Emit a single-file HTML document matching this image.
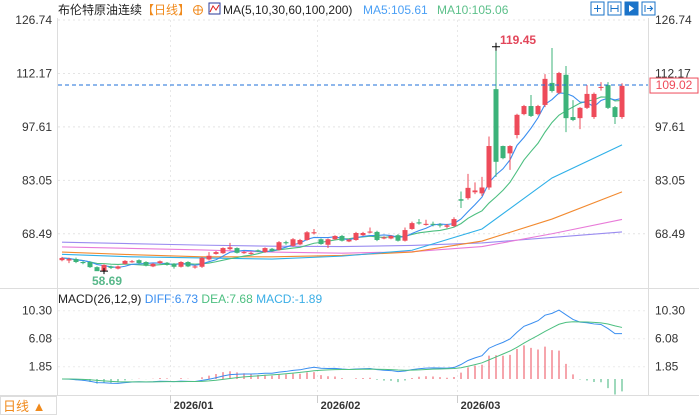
<!DOCTYPE html>
<html><head><meta charset="utf-8"><style>
body{margin:0;background:#fff;width:699px;height:415px;overflow:hidden;font-family:"Liberation Sans","Noto Sans CJK SC",sans-serif}
svg text{font-family:"Liberation Sans","Noto Sans CJK SC",sans-serif}
</style></head><body>
<svg id="c" width="699" height="415" xmlns="http://www.w3.org/2000/svg">
<rect x="0" y="0" width="699" height="415" fill="#fff"/>
<g>
<text x="58" y="14" font-size="12" fill="#222">布伦特原油连续</text>
<text x="142" y="14" font-size="12" fill="#f08a1c">【日线】</text>
<circle cx="198" cy="10" r="4.5" fill="none" stroke="#f08a1c"/>
<line x1="193.5" y1="10" x2="202.5" y2="10" stroke="#f08a1c"/><line x1="198" y1="5.5" x2="198" y2="14.5" stroke="#f08a1c"/>
<rect x="209" y="3" width="11" height="11" fill="#fff" stroke="#2a3a9a"/>
<polyline points="210,12 213,6 216,10 219,5" fill="none" stroke="#d22" stroke-width="1"/>
<text x="223" y="14" font-size="12" fill="#222">MA(5,10,30,60,100,200)</text>
<text x="363" y="14" font-size="12" fill="#4a9ff5">MA5:105.61</text>
<text x="437" y="14" font-size="12" fill="#5cc08a">MA10:105.06</text>
<g>
<rect x="591" y="2" width="13" height="13" fill="none" stroke="#1a73c9"/>
<rect x="608" y="2" width="13" height="13" fill="none" stroke="#1a73c9"/>
<rect x="625" y="2" width="13" height="13" fill="#1a73c9" stroke="#1a73c9"/>
<rect x="642" y="2" width="13" height="13" fill="none" stroke="#1a73c9"/>
<path d="M594 8.5h7M597.5 5v7M611 5v7M618 5v7M611 8.5h7M629 5v7l5-3.5zM645 5v7M647 8.5h5M650 6l2.5 2.5L650 11" stroke="#1a73c9" fill="none"/>
<path d="M629 5v7l5-3.5z" fill="#fff"/>
</g>
</g>
<g id="grid"></g>
<g id="mas"></g>
<g id="candles"></g>
<g id="macd"></g>
<g id="axes"></g>
</svg>
<script>
const open_=[61.3,61.2,61.6,60.8,60.8,59.4,58.4,59.6,59.0,60.3,60.8,61.3,60.8,59.6,60.5,60.6,60.3,59.5,60.8,59.3,59.5,61.5,63.0,63.2,64.3,64.6,63.2,63.0,64.0,63.5,64.4,64.1,66.2,65.2,65.6,66.8,68.6,67.0,65.5,67.0,67.9,66.4,66.8,68.1,68.8,69.0,67.2,67.2,68.1,66.6,69.8,71.6,70.9,71.2,71.0,70.4,70.6,77.9,78.2,79.8,79.5,81.1,107.9,92.4,90.4,95.4,101.1,103.3,101.1,103.6,109.6,106.9,111.8,100.3,100.0,102.8,100.3,108.3,109.0,103.0,100.3];
const close_=[61.9,61.6,60.8,60.5,59.4,58.3,60.0,59.2,59.6,61.1,61.0,60.5,59.8,60.3,61.0,60.0,59.5,60.8,59.6,59.6,61.9,62.5,63.5,64.6,64.8,63.3,63.5,63.3,63.7,64.6,63.8,66.2,65.9,67.0,66.8,68.9,68.9,65.7,67.0,67.9,66.6,66.9,68.7,68.7,69.1,66.8,67.5,67.9,66.6,69.5,71.4,71.3,71.2,71.0,70.8,70.8,72.5,77.5,81.0,80.3,81.1,92.4,88.1,89.1,92.4,100.9,103.3,100.6,103.3,110.7,107.4,112.3,100.0,99.5,102.8,106.6,106.6,108.5,102.8,100.3,108.8];
const high_=[62.2,62.0,62.0,61.0,61.0,59.6,60.2,59.8,59.8,61.3,61.3,61.5,61.0,60.5,61.2,60.8,60.5,61.0,61.0,59.9,62.2,63.5,63.8,64.8,66.0,64.8,63.8,63.6,64.2,64.8,64.6,66.5,66.6,67.3,67.1,69.2,69.8,67.2,67.2,68.1,68.2,67.1,69.0,69.0,70.2,69.3,67.8,68.1,68.4,70.2,71.8,72.5,72.3,71.8,71.4,71.2,73.0,80.0,84.8,82.5,84.0,95.0,119.45,92.5,92.6,101.2,103.6,106.3,103.6,112.0,119.1,112.6,114.2,104.9,103.0,109.0,107.0,109.8,109.8,103.3,109.5];
const low_=[61.0,60.5,60.5,60.2,59.2,58.69,58.3,58.9,58.8,60.1,60.6,60.3,59.6,59.4,60.3,59.8,59.0,59.3,59.4,59.0,59.2,61.2,62.8,63.0,64.0,63.1,63.0,62.8,63.5,63.3,63.6,63.9,65.5,65.0,65.4,66.6,68.3,65.5,64.6,66.8,66.4,66.2,66.6,67.9,68.6,66.5,67.0,67.0,66.4,66.4,69.6,71.0,70.7,70.5,70.2,70.0,70.3,75.5,77.8,79.3,78.8,80.5,84.0,88.8,85.9,94.5,100.8,100.3,100.8,103.0,107.0,106.5,96.2,99.2,97.0,102.5,99.8,107.5,102.5,98.4,99.8];
const maIdx=[0,10,20,30,40,50,60,70,80];
const ma30=[62.9,62.2,61.9,61.6,62.4,64.0,69.8,83.7,92.7];
const ma60=[63.5,62.8,62.2,62.2,62.6,63.5,66.5,72.5,79.9];
const ma100=[64.9,64.5,64.1,63.5,63.2,63.6,65.0,68.5,72.4];
const ma200=[66.2,65.8,65.4,65.1,65.0,65.3,66.0,67.5,69.0];
const priceTicks=[126.74,112.17,97.61,83.05,68.49];
const macdTicks=[10.30,6.08,1.85];
const monthLabels=["2026/01","2026/02","2026/03"];
const monthStart=[16,37,57];
const lastPrice=109.02, hiLabel="119.45", loLabel="58.69";

const NS="http://www.w3.org/2000/svg";
function mk(p,t,a){const e=document.createElementNS(NS,t);for(const k in a)e.setAttribute(k,a[k]);p.appendChild(e);return e;}
const X=i=>62+i*7;
const Y=p=>20+(126.74-p)*3.67;
const YM=v=>379-v*6.63;
const G=document.getElementById('grid'),M=document.getElementById('mas'),C=document.getElementById('candles'),D=document.getElementById('macd'),A=document.getElementById('axes');
// frame
mk(A,'line',{x1:57.5,y1:18,x2:57.5,y2:395,stroke:'#ddd'});
mk(A,'line',{x1:648.5,y1:18,x2:648.5,y2:395,stroke:'#ddd'});
mk(A,'line',{x1:0,y1:288.5,x2:699,y2:288.5,stroke:'#ddd'});
mk(A,'line',{x1:0,y1:395.5,x2:699,y2:395.5,stroke:'#ddd'});
priceTicks.forEach(p=>{
 const y=Y(p);
 const g=mk(G,'line',{x1:58,y1:y,x2:648,y2:y,stroke:'#e4e4e4','stroke-dasharray':'2,3'});
 
 const t=mk(A,'text',{x:52,y:y+4,'font-size':12,fill:'#333','text-anchor':'end'});t.textContent=p.toFixed(2);
 
 const t2=mk(A,'text',{x:655,y:y+4,'font-size':12,fill:'#333'});t2.textContent=p.toFixed(2);
 
});
macdTicks.forEach(v=>{
 const y=YM(v);
 mk(G,'line',{x1:58,y1:y,x2:648,y2:y,stroke:'#ececec','stroke-dasharray':'2,3'});
 const t=mk(A,'text',{x:52,y:y+4,'font-size':12,fill:'#333','text-anchor':'end'});t.textContent=v.toFixed(2);
 
 const t2=mk(A,'text',{x:655,y:y+4,'font-size':12,fill:'#333'});t2.textContent=v.toFixed(2);
 
});
monthLabels.forEach((m,k)=>{
 const x=X(monthStart[k])-3.5;
 mk(G,'line',{x1:x,y1:20,x2:x,y2:395,stroke:'#e8e8e8','stroke-dasharray':'2,3'});
 mk(A,'line',{x1:x,y1:395,x2:x,y2:403,stroke:'#ccc'});
 const t=mk(A,'text',{x:x+23,y:409,'font-size':11,'font-weight':'bold',fill:'#333','text-anchor':'middle'});t.textContent=m;
 
});
// MA lines
function poly(pts,col,name){const e=mk(M,'polyline',{points:pts.join(' '),fill:'none',stroke:col,'stroke-width':1.1});}
[[ma200,'#9a8cf0','ma200-line'],[ma100,'#e87ad8','ma100-line'],[ma60,'#f28a30','ma60-line'],[ma30,'#2fb0e8','ma30-line']].forEach(([arr,col,n])=>{
 poly(arr.map((v,k)=>X(maIdx[k])+','+Y(v)),col,n);
});
function sma(n){return close_.map((c,i)=>{const s=close_.slice(Math.max(0,i-n+1),i+1);return s.reduce((a,b)=>a+b,0)/s.length;});}
poly(sma(10).map((v,i)=>X(i)+','+Y(v)),'#4cbf80','ma10-line');
poly(sma(5).map((v,i)=>X(i)+','+Y(v)),'#3a8ef0','ma5-line');
// candles
close_.forEach((c,i)=>{
 const o=open_[i],up=c>=o,col=up?'#ee4b5a':'#3cb37a',x=X(i);
 const w=mk(C,'line',{x1:x,y1:Y(high_[i]),x2:x,y2:Y(low_[i]),stroke:col});
 
 const top=Y(Math.max(o,c)),h=Math.max(1,Math.abs(Y(o)-Y(c)));
 const b=mk(C,'rect',{x:x-2.5,y:top,width:5,height:h,fill:col});
 
});
// last price line
mk(C,'line',{x1:58,y1:Y(lastPrice),x2:648,y2:Y(lastPrice),stroke:'#1e6fd9','stroke-dasharray':'4,3'});
mk(A,'rect',{x:650,y:Y(lastPrice)-7,width:48,height:15,fill:'#fff',stroke:'#ee4b5a'});
const lp=mk(A,'text',{x:674,y:Y(lastPrice)+4,'font-size':12,fill:'#ee4b5a','text-anchor':'middle'});lp.textContent=lastPrice.toFixed(2);

// hi / lo markers
const hiI=high_.indexOf(Math.max(...high_)),loI=low_.indexOf(Math.min(...low_));
mk(A,'path',{d:`M${X(hiI)-4} ${Y(high_[hiI])}h8M${X(hiI)} ${Y(high_[hiI])-4}v8`,stroke:'#000'});
const ht=mk(A,'text',{x:X(hiI)+4,y:Y(high_[hiI])-3,'font-size':12,'font-weight':'bold',fill:'#e2465a'});ht.textContent=hiLabel;

mk(A,'path',{d:`M${X(loI)-4} ${Y(low_[loI])}h8M${X(loI)} ${Y(low_[loI])-3}v6`,stroke:'#000'});
const lt=mk(A,'text',{x:X(loI)-12,y:Y(low_[loI])+14,'font-size':12,'font-weight':'bold',fill:'#58b88a'});lt.textContent=loLabel;

// MACD from closes
function ema(n){const k=2/(n+1);let e=close_[0];return close_.map(c=>(e=c*k+e*(1-k)));}
const e12=ema(12),e26=ema(26);
const diff=e12.map((v,i)=>v-e26[i]);
let d0=diff[0];const dea=diff.map(v=>(d0=v*0.2+d0*0.8));
diff.forEach((v,i)=>{
 const h=2*(v-dea[i]),x=X(i);
 const b=mk(D,'line',{x1:x,y1:YM(0),x2:x,y2:YM(h),stroke:h>=0?'#ee4b5a':'#3cb37a'});
 
});
const pd=mk(D,'polyline',{points:diff.map((v,i)=>X(i)+','+YM(v)).join(' '),fill:'none',stroke:'#3a8ef0'});

const pe=mk(D,'polyline',{points:dea.map((v,i)=>X(i)+','+YM(v)).join(' '),fill:'none',stroke:'#4cbf80'});

// MACD header
const mh=mk(A,'text',{x:58,y:303,'font-size':12,fill:'#222'});

mh.innerHTML='MACD(26,12,9) <tspan fill="#3a8ef0">DIFF:6.73</tspan> <tspan fill="#4cbf80">DEA:7.68</tspan> <tspan fill="#3aaee6">MACD:-1.89</tspan>';
// period button
mk(A,'rect',{x:0.5,y:396.5,width:56,height:18,fill:'#fff',stroke:'#ddd'});
const pb=mk(A,'text',{x:3,y:411,'font-size':13,fill:'#f08a1c'});pb.textContent='日线 ▲';


</script>
</body></html>
